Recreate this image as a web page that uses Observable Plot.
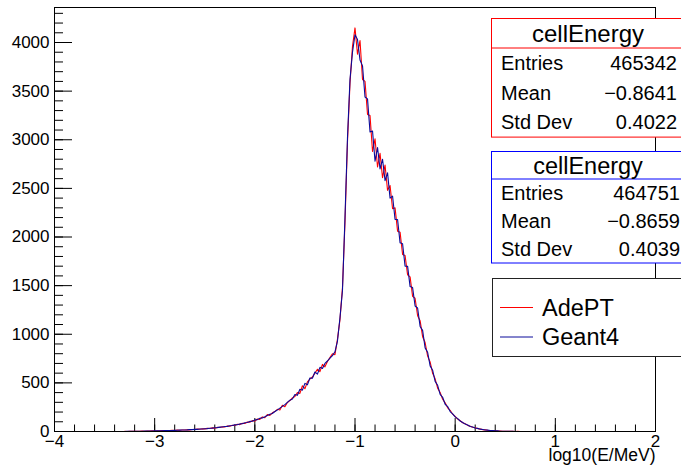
<!DOCTYPE html>
<html>
<head>
<meta charset="utf-8">
<script src="https://cdn.jsdelivr.net/npm/d3@7"></script>
<script src="https://cdn.jsdelivr.net/npm/@observablehq/plot@0.6"></script>
<style>
  html, body { margin: 0; padding: 0; background: #fff; }
  #chart svg { display: block; }
</style>
</head>
<body>
<div id="chart"></div>
<script>
// ---- data ----
const binStart = -3.3;   // centre of first plotted bin, log10(E/MeV)
const binStep = 0.025;

const adeptCounts = [
  1, 0, 2, 1, 3, 2, 2, 4, 3, 5, 4, 6, 5, 7, 6, 9, 8, 10, 9, 12,
  11, 14, 13, 16, 15, 18, 17, 21, 20, 24, 23, 28, 27, 32, 31, 37, 35, 42, 41, 49,
  47, 56, 54, 64, 62, 74, 71, 85, 82, 97, 95, 112, 108, 128, 124, 150, 142, 175, 165, 192,
  205, 228, 222, 270, 255, 298, 318, 345, 360, 400, 392, 470, 440, 510, 540, 560, 600, 640, 615, 690,
  665, 720, 760, 800, 790, 950, 1150, 1480, 2150, 2980, 3580, 3960, 4150, 3880, 4020, 3620, 3600, 3260, 3250, 2880,
  3010, 2720, 2860, 2610, 2740, 2480, 2530, 2290, 2300, 2060, 2050, 1820, 1810, 1610, 1590, 1390, 1370, 1190, 1140, 975,
  915, 775, 715, 598, 542, 446, 402, 332, 295, 244, 218, 178, 156, 128, 111, 90, 79, 63, 55, 44,
  38, 30, 26, 19, 17, 12, 11, 7, 7, 4, 4, 2, 3, 1, 2, 1, 0, 1, 0
];

const geant4Counts = [
  0, 1, 1, 2, 2, 3, 2, 3, 4, 4, 5, 5, 6, 6, 8, 7, 9, 9, 11, 10,
  12, 13, 14, 15, 16, 17, 19, 19, 22, 22, 25, 26, 29, 30, 34, 35, 39, 40, 45, 46,
  51, 53, 59, 61, 68, 70, 78, 80, 90, 92, 104, 106, 118, 122, 136, 140, 152, 165, 178, 185,
  206, 222, 240, 258, 276, 300, 322, 335, 380, 372, 435, 425, 495, 480, 550, 548, 612, 590, 660, 648,
  700, 725, 755, 780, 820, 930, 1170, 1450, 2200, 3020, 3620, 3900, 4080, 4030, 3820, 3760, 3440, 3420, 3080, 3090,
  2780, 2920, 2700, 2800, 2580, 2660, 2400, 2420, 2180, 2180, 1940, 1930, 1700, 1700, 1490, 1480, 1290, 1270, 1080, 1040,
  860, 815, 675, 630, 515, 475, 382, 352, 280, 256, 205, 182, 150, 132, 108, 93, 76, 66, 52, 46,
  36, 32, 24, 21, 15, 14, 10, 9, 6, 6, 3, 3, 2, 2, 1, 1, 0, 0, 0
];

const xMajorTicks = [-4, -3, -2, -1, 0, 1, 2];
const yMajorTicks = [0, 500, 1000, 1500, 2000, 2500, 3000, 3500, 4000];
const xDomain = [-4, 2];
const yDomain = [0, 4360];
const xTitle = "log10(E/MeV)";

const statsAdePT = {title: "cellEnergy", rows: [["Entries", "465342"], ["Mean", "\u22120.8641"], ["Std Dev", "0.4022"]]};
const statsGeant4 = {title: "cellEnergy", rows: [["Entries", "464751"], ["Mean", "\u22120.8659"], ["Std Dev", "0.4039"]]};
const seriesNames = ["AdePT", "Geant4"];
const seriesColors = ["#ff0000", "#0a0a9a"];
const boxColors = ["#ff0000", "#0000ff"];

// ---- build tables ----
function toRows(counts) {
  return counts.map((c, i) => ({x: +(binStart + i * binStep).toFixed(4), y: c}));
}
const adeptRows = toRows(adeptCounts);
const geant4Rows = toRows(geant4Counts);

const W = 681, H = 470, mL = 54, mR = 26, mT = 7, mB = 39;
const ux = (xDomain[1] - xDomain[0]) / (W - mL - mR); // data units per px
const uy = (yDomain[1] - yDomain[0]) / (H - mT - mB);
const xMinorTicks = d3.range(-4, 2.0001, 0.2).map(v => +v.toFixed(2));
const yMinorTicks = d3.range(0, 4301, 100);

const fmt = d => d < 0 ? "\u2212" + Math.abs(d) : String(d);
const font = "'Liberation Sans', Arial, Helvetica, sans-serif";

const plot = Plot.plot({
  width: W, height: H,
  marginLeft: mL, marginRight: mR, marginTop: mT, marginBottom: mB,
  x: {domain: xDomain},
  y: {domain: yDomain},
  style: {fontFamily: font, fontSize: "17px", color: "#000", background: "#fff", overflow: "visible"},
  marks: [
    Plot.ruleY(yMinorTicks, {y: d => d, x1: xDomain[0], x2: xDomain[0] + 9 * ux, stroke: "#000", strokeWidth: 1}),
    Plot.ruleY(yMajorTicks, {y: d => d, x1: xDomain[0], x2: xDomain[0] + 18 * ux, stroke: "#000", strokeWidth: 1}),
    Plot.ruleX(xMinorTicks, {x: d => d, y1: 0, y2: 6.5 * uy, stroke: "#000", strokeWidth: 1}),
    Plot.ruleX(xMajorTicks, {x: d => d, y1: 0, y2: 13 * uy, stroke: "#000", strokeWidth: 1}),
    Plot.line(adeptRows, {x: "x", y: "y", curve: "linear", stroke: seriesColors[0], strokeWidth: 1.1}),
    Plot.line(geant4Rows, {x: "x", y: "y", curve: "linear", stroke: seriesColors[1], strokeWidth: 1.1}),
    Plot.frame({stroke: "#000", strokeWidth: 1}),
    Plot.axisY({ticks: yMajorTicks, tickSize: 0, tickPadding: 5, tickFormat: fmt, fontSize: 17, label: null}),
    Plot.axisX({ticks: xMajorTicks, tickSize: 0, tickPadding: 3, tickFormat: fmt, fontSize: 17, label: null}),
    Plot.text([xTitle], {text: d => d, frameAnchor: "bottom-right", textAnchor: "end", dx: 0, dy: 29, fontSize: 17.5})
  ]
});
document.getElementById("chart").appendChild(plot);

// ---- statistics boxes & legend (annotations) ----
const svg = d3.select(plot);

function addText(g, x, y, txt, size, anchor) {
  return g.append("text").attr("x", x).attr("y", y).attr("dy", "0.36em")
    .attr("text-anchor", anchor).attr("font-family", font).attr("font-size", size)
    .attr("fill", "#000").text(txt);
}

function statsBox(stats, color, top, titleH, rowH, titleSize, valueRight) {
  const g = svg.append("g");
  const left = 491.5, right = 700;
  const bottom = top + titleH + rowH * stats.rows.length;
  g.append("rect").attr("x", left).attr("y", top).attr("width", right - left).attr("height", bottom - top)
    .attr("fill", "#fff").attr("stroke", color).attr("stroke-width", 1);
  g.append("line").attr("x1", left).attr("x2", right).attr("y1", top + titleH).attr("y2", top + titleH)
    .attr("stroke", color).attr("stroke-width", 1);
  addText(g, 588, top + titleH / 2, stats.title, titleSize, "middle");
  stats.rows.forEach((r, i) => {
    const cy = top + titleH + rowH * (i + 0.5);
    addText(g, 501, cy, r[0], 20, "start");
    addText(g, valueRight, cy, r[1], 20, "end");
  });
}
statsBox(statsAdePT, boxColors[0], 18.5, 29.5, 29.7, 24, 677);
statsBox(statsGeant4, boxColors[1], 151.5, 27.5, 28, 23.5, 680);

// legend
const lg = svg.append("g");
lg.append("rect").attr("x", 492.5).attr("y", 278.5).attr("width", 210).attr("height", 78)
  .attr("fill", "#fff").attr("stroke", "#222").attr("stroke-width", 1);
const legendY = [307.5, 337];
seriesNames.forEach((name, i) => {
  lg.append("line").attr("x1", 500).attr("x2", 533).attr("y1", legendY[i]).attr("y2", legendY[i])
    .attr("stroke", seriesColors[i]).attr("stroke-width", 1);
  addText(lg, 542, legendY[i], name, 23.5, "start");
});
</script>
</body>
</html>
